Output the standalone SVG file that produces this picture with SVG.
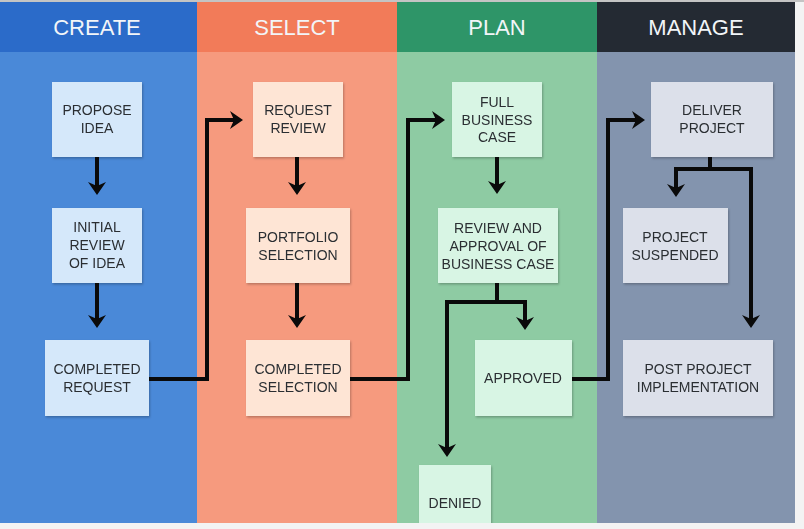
<svg xmlns="http://www.w3.org/2000/svg" width="804" height="529" viewBox="0 0 804 529">
<defs>
<marker id="ah" viewBox="0 0 13 18" refX="4" refY="9" markerWidth="13" markerHeight="18" markerUnits="userSpaceOnUse" orient="auto">
<path d="M0,0 L13,9 L0,18 L4,9 z" fill="#0a0a0a"/>
</marker>
<filter id="sh" x="-10%" y="-10%" width="125%" height="130%">
<feDropShadow dx="1" dy="1.5" stdDeviation="1" flood-color="#000" flood-opacity="0.25"/>
</filter>
</defs>
<style>
.hd{font-family:"Liberation Sans",Arial,sans-serif;font-size:22px;fill:#f2f5f8;text-anchor:middle}
.tx{font-family:"Liberation Sans",Arial,sans-serif;font-size:14px;fill:#2b2f33;text-anchor:middle}
.bx{filter:url(#sh)}
.c{fill:#d5e8fa}.s{fill:#fee5d5}.p{fill:#d8f5e4}.m{fill:#dce0ea}
.ln{fill:none;stroke:#0a0a0a;stroke-width:4;stroke-linejoin:miter}
</style>
<rect x="0" y="0" width="804" height="529" fill="#f3f3f3"/>
<rect x="0" y="0" width="804" height="2" fill="#c4c4c4"/>
<g id="lanes">
<rect x="0" y="52" width="197" height="471" fill="#4a89d8"/>
<rect x="197" y="52" width="200" height="471" fill="#f69a7e"/>
<rect x="397" y="52" width="200" height="471" fill="#8ecba3"/>
<rect x="597" y="52" width="198" height="471" fill="#8394ae"/>
<rect x="0" y="2" width="197" height="50" fill="#2b6bc9"/>
<rect x="197" y="2" width="200" height="50" fill="#f27b59"/>
<rect x="397" y="2" width="200" height="50" fill="#2e9568"/>
<rect x="597" y="2" width="198" height="50" fill="#242a33"/>
<text class="hd" x="97" y="35">CREATE</text>
<text class="hd" x="297" y="35">SELECT</text>
<text class="hd" x="497" y="35">PLAN</text>
<text class="hd" x="696" y="35">MANAGE</text>
</g>
<g id="connectors">
<path class="ln" d="M97,157 V186" marker-end="url(#ah)"/>
<path class="ln" d="M97,283 V319" marker-end="url(#ah)"/>
<path class="ln" d="M149,379 H207 V120 H234" marker-end="url(#ah)"/>
<path class="ln" d="M297,157 V186" marker-end="url(#ah)"/>
<path class="ln" d="M297,283 V319" marker-end="url(#ah)"/>
<path class="ln" d="M350,379 H408 V120 H436" marker-end="url(#ah)"/>
<path class="ln" d="M497,157 V185" marker-end="url(#ah)"/>
<path class="ln" d="M497,283 V302"/>
<path class="ln" d="M447,302 H525 V321" marker-end="url(#ah)"/>
<path class="ln" d="M447,300 V448" marker-end="url(#ah)"/>
<path class="ln" d="M572,379 H608 V120 H636" marker-end="url(#ah)"/>
<path class="ln" d="M710,157 V169"/>
<path class="ln" d="M676,169 H751 V319" marker-end="url(#ah)"/>
<path class="ln" d="M676,167 V188" marker-end="url(#ah)"/>
</g>
<g id="propose-idea" class="bx"><rect class="c" x="52" y="82" width="90" height="75"/>
<text class="tx" x="97" y="115">PROPOSE</text><text class="tx" x="97" y="133">IDEA</text></g>
<g id="initial-review" class="bx"><rect class="c" x="52" y="208" width="90" height="75"/>
<text class="tx" x="97" y="232">INITIAL</text><text class="tx" x="97" y="250">REVIEW</text><text class="tx" x="97" y="268">OF IDEA</text></g>
<g id="completed-request" class="bx"><rect class="c" x="45" y="340" width="104" height="76"/>
<text class="tx" x="97" y="374">COMPLETED</text><text class="tx" x="97" y="392">REQUEST</text></g>
<g id="request-review" class="bx"><rect class="s" x="253" y="82" width="90" height="75"/>
<text class="tx" x="298" y="115">REQUEST</text><text class="tx" x="298" y="133">REVIEW</text></g>
<g id="portfolio-selection" class="bx"><rect class="s" x="246" y="208" width="104" height="75"/>
<text class="tx" x="298" y="242">PORTFOLIO</text><text class="tx" x="298" y="260">SELECTION</text></g>
<g id="completed-selection" class="bx"><rect class="s" x="246" y="340" width="104" height="76"/>
<text class="tx" x="298" y="374">COMPLETED</text><text class="tx" x="298" y="392">SELECTION</text></g>
<g id="full-business-case" class="bx"><rect class="p" x="452" y="82" width="90" height="75"/>
<text class="tx" x="497" y="107">FULL</text><text class="tx" x="497" y="125">BUSINESS</text><text class="tx" x="497" y="142">CASE</text></g>
<g id="review-approval" class="bx"><rect class="p" x="438" y="208" width="120" height="75"/>
<text class="tx" x="498" y="233">REVIEW AND</text><text class="tx" x="498" y="251">APPROVAL OF</text><text class="tx" x="498" y="269">BUSINESS CASE</text></g>
<g id="approved" class="bx"><rect class="p" x="475" y="340" width="97" height="76"/>
<text class="tx" x="523" y="383">APPROVED</text></g>
<g id="denied" class="bx"><rect class="p" x="419" y="465" width="72" height="60"/>
<text class="tx" x="455" y="508">DENIED</text></g>
<g id="deliver-project" class="bx"><rect class="m" x="651" y="82" width="122" height="75"/>
<text class="tx" x="712" y="115">DELIVER</text><text class="tx" x="712" y="133">PROJECT</text></g>
<g id="project-suspended" class="bx"><rect class="m" x="623" y="208" width="105" height="75"/>
<text class="tx" x="675" y="242">PROJECT</text><text class="tx" x="675" y="260">SUSPENDED</text></g>
<g id="post-project" class="bx"><rect class="m" x="623" y="340" width="150" height="76"/>
<text class="tx" x="698" y="374">POST PROJECT</text><text class="tx" x="698" y="392">IMPLEMENTATION</text></g>
<rect x="0" y="523" width="804" height="6" fill="#f3f3f3"/>
</svg>
